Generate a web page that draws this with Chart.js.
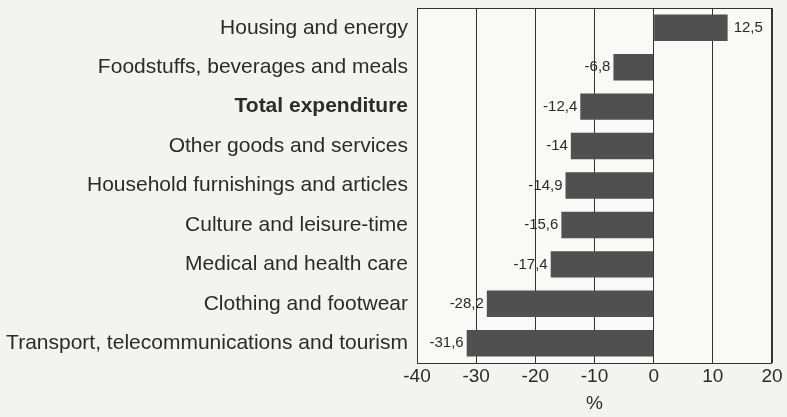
<!doctype html>
<html>
<head>
  <title>Expenditure change</title>
  <script src="https://cdn.jsdelivr.net/npm/chart.js@4.4.1/dist/chart.umd.min.js"></script>
  <style>
    html, body { margin: 0; padding: 0; background: #f3f3f1; }
    #wrap { width: 787px; height: 417px; }
  </style>
</head>
<body>
<div id="wrap">
  <canvas id="chart" width="787" height="417"></canvas>
</div>
<script>
  // data
  const categories = [
    'Housing and energy',
    'Foodstuffs, beverages and meals',
    'Total expenditure',
    'Other goods and services',
    'Household furnishings and articles',
    'Culture and leisure-time',
    'Medical and health care',
    'Clothing and footwear',
    'Transport, telecommunications and tourism'
  ];
  const changes = [12.5, -6.8, -12.4, -14, -14.9, -15.6, -17.4, -28.2, -31.6];
  const boldCategory = 'Total expenditure';
  const xTicks = [-40, -30, -20, -10, 0, 10, 20];
  const axisTitle = '%';

  const FONT = '"Liberation Sans", Arial, sans-serif';
  const INK = '#2b2b2b';

  // frame round the plot + value labels at bar ends
  const framePlugin = {
    id: 'frame',
    beforeDraw(chart) {
      const a = chart.chartArea, ctx = chart.ctx;
      ctx.save();
      ctx.fillStyle = '#f9f9f8';
      ctx.fillRect(a.left, a.top, a.right - a.left, a.bottom - a.top);
      ctx.restore();
    },
    beforeDatasetsDraw(chart) {
      const a = chart.chartArea, ctx = chart.ctx;
      ctx.save();
      ctx.strokeStyle = '#333';
      ctx.lineWidth = 1;
      ctx.strokeRect(a.left + 0.5, a.top + 0.5, a.right - a.left - 1, a.bottom - a.top);
      ctx.restore();
    },
    afterDatasetsDraw(chart) {
      const ctx = chart.ctx;
      const meta = chart.getDatasetMeta(0);
      ctx.save();
      ctx.font = '15px ' + FONT;
      ctx.fillStyle = INK;
      ctx.textBaseline = 'middle';
      meta.data.forEach(function (bar, i) {
        const v = changes[i];
        const txt = String(v).replace('.', ',');
        if (v < 0) {
          ctx.textAlign = 'right';
          ctx.fillText(txt, bar.x - 3, bar.y);
        } else {
          ctx.textAlign = 'left';
          ctx.fillText(txt, bar.x + 6, bar.y);
        }
      });
      ctx.restore();
    }
  };

  const ctx = document.getElementById('chart').getContext('2d');
  const chart = new Chart(ctx, {
    type: 'bar',
    data: {
      labels: categories,
      datasets: [{
        data: changes,
        backgroundColor: '#505050',
        borderWidth: 0,
        barPercentage: 0.67,
        categoryPercentage: 1
      }]
    },
    options: {
      indexAxis: 'y',
      responsive: false,
      animation: false,
      layout: { padding: { top: 8, right: 15, bottom: 0, left: 0 } },
      plugins: {
        legend: { display: false },
        tooltip: { enabled: false }
      },
      scales: {
        x: {
          min: -40,
          max: 20,
          afterBuildTicks(scale) {
            scale.ticks = xTicks.map(v => ({ value: v }));
          },
          afterFit(scale) {
            scale.height = 54;
            scale.paddingLeft = 0;
            scale.paddingRight = 0;
          },
          grid: { color: '#333', lineWidth: 1, drawTicks: false },
          border: { display: false },
          ticks: {
            color: INK,
            padding: 2,
            font: { family: FONT, size: 19 }
          },
          title: {
            display: true,
            text: axisTitle,
            color: INK,
            padding: { top: 0, bottom: 2 },
            font: { family: FONT, size: 19 }
          }
        },
        y: {
          afterFit(scale) {
            scale.width = 417;
            scale.paddingTop = 0;
            scale.paddingBottom = 0;
          },
          grid: { display: false, drawTicks: false },
          border: { display: false },
          ticks: {
            color: INK,
            padding: 9,
            font: function (c) {
              const lbl = c.tick ? c.tick.label : '';
              return { family: FONT, size: 21, weight: lbl === boldCategory ? 'bold' : 'normal' };
            }
          }
        }
      }
    },
    plugins: [framePlugin]
  });
</script>
</body>
</html>
